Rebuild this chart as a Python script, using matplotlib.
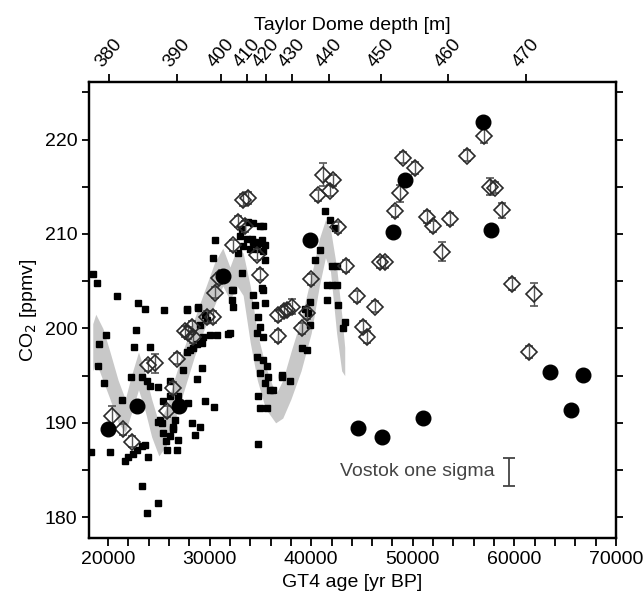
import matplotlib
matplotlib.use("Agg")
import matplotlib.pyplot as plt
import numpy as np

plt.rcParams['font.family'] = ['Liberation Sans', 'DejaVu Sans']

# ---------------- data ----------------
# Vostok CO2 (small black squares): GT4 age [yr BP], CO2 [ppmv]
vostok_age = [18550, 18890, 20850, 22980, 23640, 25560, 27740, 28890, 19850, 22780,
              19140, 22520, 24150, 19050, 19580, 22280, 21350, 23310, 23800, 24130,
              24950, 26100, 25380, 26100, 18300, 20240, 21670, 22000, 22490, 22820,
              23310, 23640, 23970, 23310, 23870, 24950, 24950, 25120, 25280, 25440,
              25710, 25770, 26100, 26430, 26600, 26760, 26920, 26430, 26920, 27410,
              29220, 28720, 27740, 28390, 30690, 31840, 29540, 30430, 28230, 29050,
              28560, 27900, 28720, 29220, 29380, 30030, 29540, 29050, 29710, 28070,
              27740, 28890, 30530, 30360, 32820, 33150, 32170, 32170, 32330, 34300,
              34460, 35120, 35440, 32000, 32330, 34140, 34460, 35120, 35280, 35440,
              35280, 34790, 34950, 34630, 35280, 34630, 35280, 35620, 34950, 35770,
              35450, 35940, 34790, 34950, 35620, 34790, 36250, 37090, 37900, 39050,
              39540, 39880, 39380, 39710, 39880, 40860, 40370, 41350, 41840, 42330,
              42010, 42500, 41520, 42010, 42500, 41520, 42660, 43320, 43150, 37090,
              32990, 33650, 34300, 34950, 35450, 33320, 33980, 34630, 35280, 34950,
              34300, 33800, 33150]
vostok_co2 = [205.8, 204.8, 203.4, 202.7, 202.1, 202.0, 202.0, 202.2, 199.3, 199.8,
              198.4, 198.0, 198.0, 196.0, 194.2, 194.9, 192.4, 194.9, 194.4, 193.9,
              193.8, 194.4, 192.3, 192.8, 186.9, 186.9, 186.0, 186.4, 186.7, 187.1,
              187.5, 187.7, 186.4, 183.3, 180.5, 181.5, 190.1, 190.3, 190.0, 188.9,
              188.1, 187.1, 188.6, 189.6, 190.3, 187.1, 188.2, 189.3, 192.8, 195.6,
              195.8, 194.6, 197.5, 197.9, 199.3, 199.4, 192.3, 191.7, 190.0, 189.6,
              188.7, 192.1, 198.3, 198.5, 199.1, 199.3, 201.4, 200.4, 200.9, 197.7,
              202.1, 202.3, 209.4, 207.5, 208.0, 205.9, 204.1, 203.0, 202.3, 203.5,
              202.5, 204.3, 202.7, 199.5, 204.1, 209.5, 209.2, 209.4, 210.8, 207.2,
              204.1, 201.2, 200.2, 199.5, 199.1, 197.0, 196.7, 196.0, 195.3, 194.9,
              194.2, 193.5, 192.8, 191.6, 191.6, 187.8, 193.5, 194.9, 194.4, 197.9,
              197.7, 202.8, 202.1, 201.6, 200.4, 208.3, 207.2, 212.4, 211.5, 210.6,
              206.6, 206.6, 204.6, 204.6, 204.6, 203.0, 202.5, 200.7, 200.0, 195.1,
              209.8, 209.5, 209.2, 209.0, 208.8, 208.7, 208.4, 208.4, 208.2, 210.8,
              211.2, 211.3, 210.5]

# Grey band (Vostok smoothed envelope)
band_age = [18500, 18800, 19500, 20200, 21000, 21700, 22300, 23000, 23600, 24300,
            25000, 25700, 26500, 27500, 28500, 29500, 30500, 31300, 32000, 32700,
            33300, 34000, 34700, 35500, 36500, 37200, 38000, 39000, 40000, 40800,
            41400, 41900, 42500, 43000, 43300]
band_lo = [195.5, 196.5, 194.5, 192.5, 190.0, 189.0, 191.0, 193.5, 191.5, 188.5,
           186.5, 187.5, 190.0, 193.5, 197.0, 200.0, 202.5, 204.5, 203.0, 204.5,
           203.5, 198.5, 194.5, 191.5, 190.0, 190.5, 192.5, 195.5, 199.5, 204.5,
           207.5, 206.0, 199.5, 195.5, 195.0]
band_hi = [200.5, 201.5, 200.0, 197.5, 194.5, 192.5, 195.0, 197.5, 195.5, 192.5,
           190.0, 191.5, 194.5, 198.0, 201.0, 204.0, 207.0, 208.5, 206.5, 208.5,
           208.0, 204.5, 199.5, 196.0, 193.0, 194.5, 197.5, 201.0, 205.5, 209.5,
           211.5, 210.5, 206.5, 201.5, 198.0]

# Taylor Dome CO2 (open diamonds with error bars)
td_age = [20360, 21510, 22330, 23970, 24620, 25780, 26430, 26760, 27580, 27900,
          28230, 28380, 29710, 30360, 30520, 30950, 32330, 32820, 33250, 33800,
          33480, 34690, 34950, 36760, 37300, 37580, 38080, 36760, 39060, 39600,
          39950, 40690, 41190, 41840, 42100, 42660, 43400, 44470, 45120, 45450,
          46270, 46760, 47250, 48240, 48730, 49060, 50210, 51360, 52010, 52830,
          53650, 55360, 57000, 57590, 58080, 58740, 59720, 61430, 61920]
td_co2 = [190.7, 189.3, 188.0, 196.1, 196.3, 191.2, 193.7, 196.8, 199.7, 199.5,
          200.2, 199.1, 201.2, 201.2, 203.8, 205.3, 208.8, 211.3, 213.6, 213.8,
          210.8, 207.8, 205.7, 201.4, 201.8, 202.0, 202.3, 199.2, 200.0, 201.6,
          205.2, 214.1, 216.3, 214.6, 215.7, 210.7, 206.6, 203.4, 200.2, 199.1,
          202.3, 207.0, 207.0, 212.4, 214.3, 218.1, 217.0, 211.8, 210.8, 208.1,
          211.6, 218.3, 220.4, 215.0, 214.9, 212.5, 204.7, 197.5, 203.6]
td_err = [1.1, 0.6, 0.6, 0.6, 1.0, 0.6, 0.6, 0.6, 0.6, 0.6,
          0.6, 0.6, 0.6, 0.6, 0.6, 0.6, 0.6, 0.6, 0.6, 0.6,
          0.6, 0.6, 0.6, 0.6, 0.6, 0.6, 0.8, 0.6, 0.6, 0.6,
          0.6, 0.6, 1.2, 0.6, 0.6, 0.6, 0.6, 0.6, 0.6, 0.6,
          0.6, 0.6, 0.6, 0.6, 0.9, 0.6, 0.6, 0.6, 0.6, 1.0,
          0.6, 0.6, 0.8, 0.9, 0.6, 0.8, 0.6, 0.6, 1.2]

# Other record (large black circles)
circ_age = [20030, 22880, 27020, 31345, 39876, 48073, 49225, 44630, 46930, 51025,
            56930, 57687, 63493, 66710, 65530]
circ_co2 = [189.3, 191.8, 191.8, 205.5, 209.4, 210.2, 215.7, 189.4, 188.5, 190.5,
            221.9, 210.4, 195.4, 195.1, 191.4]

# Taylor Dome depth axis (top)
depth_labels = [380, 390, 400, 410, 420, 430, 440, 450, 460, 470]
depth_ages = [20080, 26820, 31100, 33720, 35590, 38150, 41790, 46900, 53500, 61180]

# Vostok one-sigma indicator
sigma_age = 59500
sigma_co2 = 184.8
sigma_err = 1.5

# ---------------- figure ----------------
fig = plt.figure(figsize=(6.44, 6.00), dpi=100)
ax = fig.add_axes([89/644, 1-538/600, 527/644, 456/600])

ax.fill_between(band_age, band_lo, band_hi, color='#c8c8c8', lw=0, zorder=1)
ax.plot(vostok_age, vostok_co2, ls='none', marker='s', ms=5, color='black',
        mec='black', zorder=2)
ax.errorbar(td_age, td_co2, yerr=td_err, fmt='D', ms=8.3, mfc='none',
            mec='#2a2a2a', mew=1.2, ecolor='#555555', elinewidth=1.0,
            capsize=3, capthick=1.0, zorder=3)
ax.plot(circ_age, circ_co2, ls='none', marker='o', ms=10.5, color='black', zorder=4)

ax.errorbar([sigma_age], [sigma_co2], yerr=[sigma_err], fmt='none',
            ecolor='#444444', elinewidth=1.3, capsize=4, capthick=1.3, zorder=4)
ax.text(42800, sigma_co2, 'Vostok one sigma', fontsize=14, color='#444444',
        ha='left', va='center', zorder=5)

ax.set_xlim(18130, 70000)
ax.set_ylim(177.8, 226.1)
ax.set_xticks(np.arange(20000, 70001, 10000))
ax.set_xticks(np.arange(20000, 70001, 2000), minor=True)
ax.set_yticks(np.arange(180, 221, 10))
ax.set_yticks(np.arange(180, 226, 5), minor=True)
ax.tick_params(axis='both', which='both', direction='out', width=1.3,
               labelsize=14)
ax.tick_params(axis='x', which='both', length=6)
ax.tick_params(axis='y', which='both', length=5, right=True)
for s in ax.spines.values():
    s.set_linewidth(1.6)

ax.set_xlabel('GT4 age [yr BP]', fontsize=14, labelpad=4)
ax.set_ylabel('CO$_2$ [ppmv]', fontsize=14, labelpad=4)

top = ax.twiny()
top.set_xlim(ax.get_xlim())
top.set_xticks(depth_ages)
top.set_xticklabels([str(d) for d in depth_labels], rotation=50,
                    ha='center', fontsize=13.5)
top.tick_params(axis='x', direction='out', length=6, width=1.3, pad=2)
top.xaxis.set_minor_locator(matplotlib.ticker.NullLocator())
top.set_xlabel('Taylor Dome depth [m]', fontsize=14, labelpad=4)
for s in top.spines.values():
    s.set_linewidth(1.6)

fig.savefig('out.png', dpi=100)
